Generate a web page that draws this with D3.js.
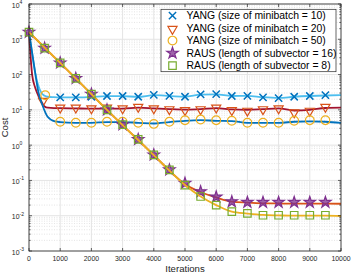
<!DOCTYPE html>
<html>
<head>
<meta charset="utf-8">
<script src="https://cdn.jsdelivr.net/npm/d3@7"></script>
<style>
  body { margin: 0; background: #fff; }
  svg { display: block; font-family: "Liberation Sans", Arial, sans-serif; }
</style>
</head>
<body>
<div id="main"></div>
<script>
// iterations on x, cost on a log y axis
const xTicks = [0, 1000, 2000, 3000, 4000, 5000, 6000, 7000, 8000, 9000, 10000];
const yDecades = [-3, -2, -1, 0, 1, 2, 3, 4];

const seriesNames = [
  'YANG (size of minibatch = 10)',
  'YANG (size of minibatch = 20)',
  'YANG (size of minibatch = 50)',
  'RAUS (length of subvector = 16)',
  'RAUS (length of subvector = 8)',
];

// line data
const yang10LineIt = [0, 100, 200, 300, 400, 500, 600, 800, 1000, 1500, 2000, 2500, 3000, 3500, 4000, 4500, 5000, 5500, 6000, 6500, 7000, 7500, 8000, 8500, 9000, 9500, 10000];
const yang10LineVal = [1600, 400, 110, 48, 30, 25, 23.5, 23, 22.7, 22.5, 23.3, 24.5, 24.5, 23.3, 26, 24.8, 23.5, 27, 27.5, 24.7, 25, 22.8, 21.8, 23.5, 24.7, 25.5, 26];
const yang20LineIt = [0, 100, 200, 300, 400, 500, 600, 800, 1000, 1500, 2000, 2500, 3000, 3500, 4000, 4500, 5000, 5500, 6000, 6500, 7000, 7500, 8000, 8500, 9000, 9500, 10000];
const yang20LineVal = [1600, 100, 42, 25, 17, 12.5, 11.5, 11.2, 11.2, 11, 10.8, 11, 10.8, 11.5, 11, 10.5, 10.2, 10.5, 11.2, 10.3, 10, 10.5, 11, 9.6, 10, 11.3, 11.5];
const yang50LineIt = [0, 100, 200, 300, 430, 590, 830, 1000, 1500, 2000, 2500, 3000, 3500, 4000, 4500, 5000, 5500, 6000, 6500, 7000, 7500, 8000, 8500, 9000, 9500, 10000];
const yang50LineVal = [1600, 420, 110, 32, 13.7, 6.5, 4.7, 4.5, 4.3, 4.3, 4.5, 4.5, 4.3, 4.1, 4.5, 4.9, 5.1, 4.9, 4.8, 4.3, 4.3, 4.3, 4.6, 4.7, 4.6, 4.3];
const raus16LineIt = [0, 500, 1000, 1500, 2000, 2500, 3000, 3500, 4000, 4500, 5000, 5500, 6000, 6500, 7000, 7500, 8000, 8500, 9000, 9500, 10000];
const raus16LineVal = [1600, 580, 215, 78, 28, 10, 3.7, 1.4, 0.52, 0.19, 0.078, 0.047, 0.033, 0.025, 0.0235, 0.0225, 0.0222, 0.022, 0.022, 0.022, 0.0218];
const raus8LineIt = [0, 500, 1000, 1500, 2000, 2500, 3000, 3500, 4000, 4500, 5000, 5500, 6000, 6500, 7000, 7500, 8000, 8500, 9000, 9500, 10000];
const raus8LineVal = [1600, 580, 215, 78, 28, 10, 3.7, 1.4, 0.52, 0.19, 0.074, 0.035, 0.02, 0.013, 0.0115, 0.0105, 0.0102, 0.01, 0.01, 0.01, 0.0098];

// marker data
const yang10MarkIt = [1000, 1500, 2000, 2500, 3000, 3500, 4000, 4500, 5000, 5500, 6000, 6500, 7000, 7500, 8000, 8500, 9000, 9500];
const yang10MarkVal = [22.7, 22.7, 23.5, 24.7, 24.7, 23.5, 26.5, 25, 23.5, 27.5, 28, 24.7, 25, 22.7, 21.6, 23.5, 24.7, 26];
const yang20MarkIt = [450, 1000, 1500, 2000, 2500, 3000, 3500, 4000, 4500, 5000, 5500, 6000, 6500, 7000, 7500, 8000, 8500, 9000, 9500];
const yang20MarkVal = [19, 12.3, 12.3, 11.7, 12.3, 11.7, 12.9, 11.7, 11, 10.4, 11, 12.3, 10.4, 10, 11, 11.7, 9, 10, 12.9];
const yang50MarkIt = [520, 1000, 1500, 2000, 2500, 3000, 3500, 4000, 4500, 5000, 5500, 6000, 6500, 7000, 7500, 8000, 8500, 9000, 9500];
const yang50MarkVal = [26, 4.6, 4.3, 4.3, 4.6, 4.6, 4.3, 4.0, 4.6, 5.1, 5.3, 5.1, 4.9, 4.3, 4.3, 4.3, 4.9, 5.1, 5.1];
const rausMarkIt = [0, 500, 1000, 1500, 2000, 2500, 3000, 3500, 4000, 4500, 5000, 5500, 6000, 6500, 7000, 7500, 8000, 8500, 9000, 9500];
const raus16MarkVal = [1600, 560, 215, 78, 28, 10, 3.8, 1.45, 0.53, 0.2, 0.083, 0.048, 0.034, 0.025, 0.024, 0.024, 0.024, 0.024, 0.024, 0.024];
const raus8MarkVal = [1600, 560, 215, 78, 28, 10, 3.8, 1.45, 0.53, 0.2, 0.074, 0.035, 0.02, 0.013, 0.0117, 0.0103, 0.0103, 0.0103, 0.0103, 0.0103];

const width = 353;
const height = 274;
const margin = { left: 29, right: 12, top: 4, bottom: 23 };

const svg = d3.select('#main')
  .append('svg')
  .attr('width', width)
  .attr('height', height);

const x = d3.scaleLinear().domain([0, 10000]).range([margin.left, width - margin.right]);
const y = d3.scaleLog().domain([1e-3, 1e4]).range([height - margin.bottom, margin.top]);

const axisColor = '#262626';

// grid
const minorVals = [];
yDecades.slice(0, -1).forEach((e) => {
  for (let k = 2; k <= 9; k++) minorVals.push(k * Math.pow(10, e));
});

svg.append('g')
  .selectAll('line')
  .data(minorVals)
  .enter()
  .append('line')
  .attr('x1', x(0))
  .attr('x2', x(10000))
  .attr('y1', (d) => y(d))
  .attr('y2', (d) => y(d))
  .attr('stroke', '#d4d4d4')
  .attr('stroke-width', 0.6)
  .attr('stroke-dasharray', '1,1.5');

svg.append('g')
  .selectAll('line')
  .data(yDecades.map((e) => Math.pow(10, e)))
  .enter()
  .append('line')
  .attr('x1', x(0))
  .attr('x2', x(10000))
  .attr('y1', (d) => y(d))
  .attr('y2', (d) => y(d))
  .attr('stroke', '#e4e4e4')
  .attr('stroke-width', 1);

svg.append('g')
  .selectAll('line')
  .data(xTicks)
  .enter()
  .append('line')
  .attr('x1', (d) => x(d))
  .attr('x2', (d) => x(d))
  .attr('y1', y(1e-3))
  .attr('y2', y(1e4))
  .attr('stroke', '#e4e4e4')
  .attr('stroke-width', 1);

// series
const lineGen = d3.line()
  .x((d) => x(d[0]))
  .y((d) => y(d[1]))
  .curve(d3.curveMonotoneX);

const zip = (a, b) => a.map((v, i) => [v, b[i]]);

const series = [
  { line: zip(yang10LineIt, yang10LineVal), marks: zip(yang10MarkIt, yang10MarkVal), lineColor: '#4DBEEE', markColor: '#0072BD', symbol: 'times' },
  { line: zip(yang20LineIt, yang20LineVal), marks: zip(yang20MarkIt, yang20MarkVal), lineColor: '#A2142F', markColor: '#D95319', symbol: 'triangle' },
  { line: zip(yang50LineIt, yang50LineVal), marks: zip(yang50MarkIt, yang50MarkVal), lineColor: '#0072BD', markColor: '#EDB120', symbol: 'circle' },
  { line: zip(raus16LineIt, raus16LineVal), marks: zip(rausMarkIt, raus16MarkVal), lineColor: '#D95319', markColor: '#7E2F8E', symbol: 'star' },
  { line: zip(raus8LineIt, raus8LineVal), marks: zip(rausMarkIt, raus8MarkVal), lineColor: '#EDB120', markColor: '#77AC30', symbol: 'square' },
];

const symbolPath = {
  times: d3.symbol().type(d3.symbolTimes).size(36)(),
  triangle: d3.symbol().type(d3.symbolTriangle).size(36)(),
  circle: d3.symbol().type(d3.symbolCircle).size(60)(),
  star: d3.symbol().type(d3.symbolStar).size(40)(),
  square: d3.symbol().type(d3.symbolSquare).size(56)(),
};

function drawMarker(g, s, cx, cy) {
  const p = g.append('path')
    .attr('d', symbolPath[s.symbol])
    .attr('fill', s.symbol === 'star' ? s.markColor : 'none')
    .attr('fill-opacity', 0.75)
    .attr('stroke', s.markColor)
    .attr('stroke-width', s.symbol === 'times' ? 1.5 : 1.2);
  if (s.symbol === 'triangle') p.attr('transform', `translate(${cx},${cy + 1}) rotate(180)`);
  else p.attr('transform', `translate(${cx},${cy})`);
}

const plot = svg.append('g');
series.forEach((s) => {
  plot.append('path')
    .datum(s.line)
    .attr('d', lineGen)
    .attr('fill', 'none')
    .attr('stroke', s.lineColor)
    .attr('stroke-width', 1.8);
  const mg = plot.append('g');
  s.marks.forEach((d) => drawMarker(mg, s, x(d[0]), y(d[1])));
});

// axes box and ticks
svg.append('rect')
  .attr('x', x(0))
  .attr('y', y(1e4))
  .attr('width', x(10000) - x(0))
  .attr('height', y(1e-3) - y(1e4))
  .attr('fill', 'none')
  .attr('stroke', axisColor)
  .attr('stroke-width', 0.8);

const ticks = svg.append('g').attr('stroke', axisColor).attr('stroke-width', 0.7);
xTicks.forEach((t) => {
  ticks.append('line').attr('x1', x(t)).attr('x2', x(t)).attr('y1', y(1e-3)).attr('y2', y(1e-3) - 3);
  ticks.append('line').attr('x1', x(t)).attr('x2', x(t)).attr('y1', y(1e4)).attr('y2', y(1e4) + 3);
});
yDecades.forEach((e) => {
  const v = Math.pow(10, e);
  ticks.append('line').attr('x1', x(0)).attr('x2', x(0) + 3).attr('y1', y(v)).attr('y2', y(v));
  ticks.append('line').attr('x1', x(10000)).attr('x2', x(10000) - 3).attr('y1', y(v)).attr('y2', y(v));
});
minorVals.forEach((v) => {
  ticks.append('line').attr('x1', x(0)).attr('x2', x(0) + 1.6).attr('y1', y(v)).attr('y2', y(v));
  ticks.append('line').attr('x1', x(10000)).attr('x2', x(10000) - 1.6).attr('y1', y(v)).attr('y2', y(v));
});

svg.append('g')
  .selectAll('text')
  .data(xTicks)
  .enter()
  .append('text')
  .attr('x', (d) => x(d))
  .attr('y', 260.5)
  .attr('text-anchor', 'middle')
  .attr('font-size', 6.9)
  .attr('fill', axisColor)
  .text((d) => d);

const yLabels = svg.append('g').attr('fill', axisColor);
yDecades.forEach((e) => {
  const t = yLabels.append('text')
    .attr('x', 11.8)
    .attr('y', y(Math.pow(10, e)) + 3.6)
    .attr('font-size', 6.9);
  t.append('tspan').text('10');
  t.append('tspan').attr('dy', -3.6).attr('font-size', 5).text(e);
});

svg.append('text')
  .attr('x', (x(0) + x(10000)) / 2)
  .attr('y', 271.5)
  .attr('text-anchor', 'middle')
  .attr('font-size', 9.6)
  .attr('fill', axisColor)
  .text('Iterations');

svg.append('text')
  .attr('transform', `translate(7.5,${(y(1e4) + y(1e-3)) / 2}) rotate(-90)`)
  .attr('text-anchor', 'middle')
  .attr('font-size', 9.6)
  .attr('fill', axisColor)
  .text('Cost');

// legend
const legend = svg.append('g');
legend.append('rect')
  .attr('x', 161)
  .attr('y', 9.3)
  .attr('width', 175)
  .attr('height', 62.4)
  .attr('fill', '#fff')
  .attr('stroke', axisColor)
  .attr('stroke-width', 0.7);

series.forEach((s, i) => {
  const cy = 15.6 + i * 12.5;
  drawMarker(legend, s, 172.5, cy);
  legend.append('text')
    .attr('x', 186.5)
    .attr('y', cy + 3.5)
    .attr('font-size', 10.4)
    .attr('fill', '#000')
    .text(seriesNames[i]);
});
</script>
</body>
</html>
